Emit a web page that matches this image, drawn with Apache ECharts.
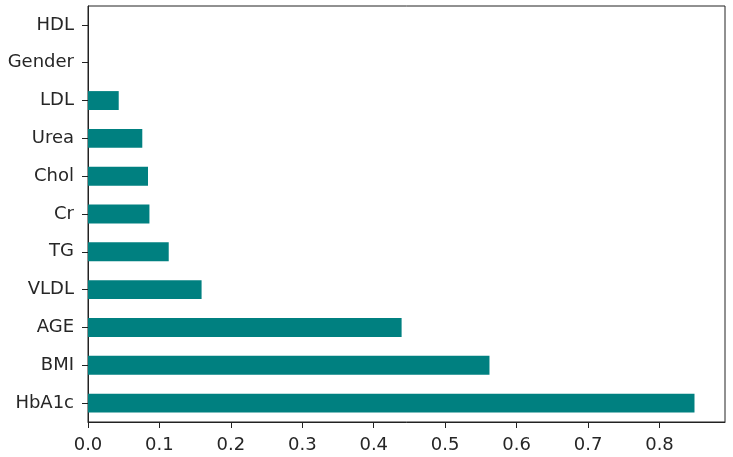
<!DOCTYPE html>
<html>
<head>
<meta charset="utf-8">
<script src="https://cdn.jsdelivr.net/npm/echarts@6/dist/echarts.min.js"></script>
<style>html,body{margin:0;padding:0;background:#fff;}#c{width:733px;height:457px;}</style>
</head>
<body>
<div id="c"></div>
<script>
const categories = ['HbA1c','BMI','AGE','VLDL','TG','Cr','Chol','Urea','LDL','Gender','HDL'];
const importance = [0.849, 0.562, 0.439, 0.159, 0.113, 0.086, 0.084, 0.076, 0.043, 0, 0];
const xTicks = [0, 0.1, 0.2, 0.3, 0.4, 0.5, 0.6, 0.7, 0.8];
const xMax = 0.8917;

const chart = echarts.init(document.getElementById('c'));
chart.setOption({
  animation: false,
  backgroundColor: '#fff',
  grid: { left: 88, top: 6, right: 8, bottom: 35, show: true, borderColor: '#222', borderWidth: 1, containLabel: false },
  xAxis: {
    type: 'value', min: 0, max: xMax,
    splitLine: { show: false },
    axisLine: { show: true, lineStyle: { color: '#222', width: 1 } },
    axisTick: { show: true, length: 6, lineStyle: { color: '#222' }, customValues: xTicks },
    axisLabel: { customValues: xTicks, margin: 14, color: '#262626', fontSize: 18, fontFamily: 'DejaVu Sans',
      formatter: v => v.toFixed(1) }
  },
  yAxis: {
    type: 'category', data: categories,
    axisLine: { show: true, lineStyle: { color: '#222', width: 1 } },
    axisTick: { show: true, alignWithLabel: true, length: 6, lineStyle: { color: '#222' } },
    axisLabel: { margin: 14, color: '#262626', fontSize: 18, fontFamily: 'DejaVu Sans', padding: [6, 0, 0, 0] }
  },
  series: [{
    type: 'bar', data: importance, barWidth: '50%',
    itemStyle: { color: '#008080' }
  }]
});
</script>
</body>
</html>
